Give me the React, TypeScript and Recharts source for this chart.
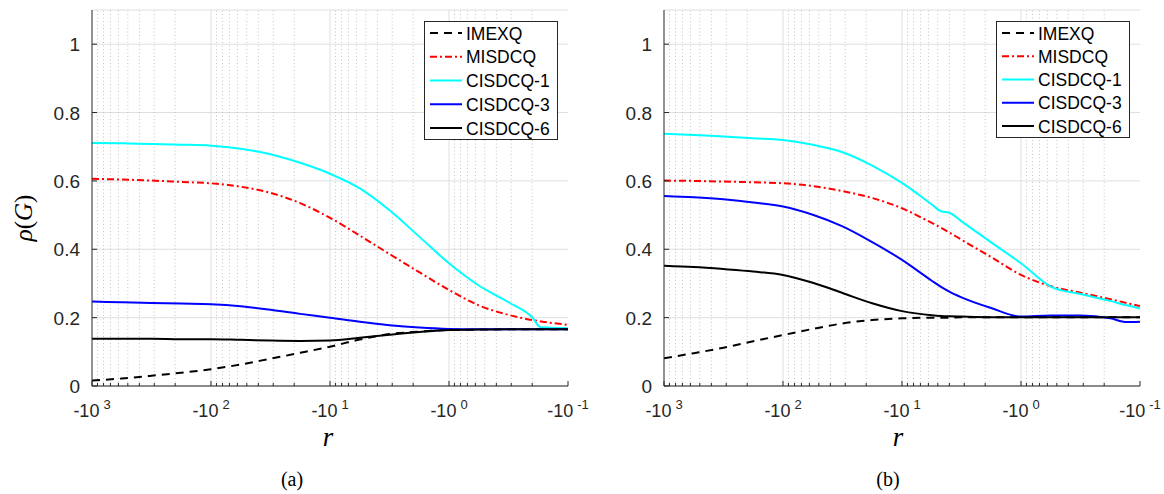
import React from "react";
import { LineChart, Line, XAxis, YAxis, CartesianGrid, ReferenceLine } from "recharts";

// |r| sample points (axis shows -|r|)
const rA = [1000, 562, 316, 178, 100, 56.2, 31.6, 17.8, 10, 5.62, 3.16, 1.78, 1, 0.562, 0.316, 0.2, 0.17, 0.1];
const imexqA = [0.016, 0.022, 0.03, 0.039, 0.049, 0.063, 0.08, 0.097, 0.115, 0.136, 0.152, 0.159, 0.164, 0.165, 0.166, 0.166, 0.166, 0.166];
const misdcqA = [0.606, 0.604, 0.601, 0.597, 0.593, 0.583, 0.565, 0.535, 0.492, 0.44, 0.386, 0.333, 0.281, 0.236, 0.208, 0.193, 0.189, 0.179];
const cis1A = [0.711, 0.71, 0.708, 0.706, 0.703, 0.694, 0.678, 0.653, 0.621, 0.578, 0.514, 0.437, 0.359, 0.294, 0.245, 0.201, 0.172, 0.169];
const cis3A = [0.247, 0.245, 0.243, 0.241, 0.239, 0.233, 0.223, 0.211, 0.2, 0.188, 0.178, 0.171, 0.167, 0.166, 0.166, 0.166, 0.166, 0.166];
const cis6A = [0.138, 0.138, 0.138, 0.137, 0.137, 0.135, 0.133, 0.132, 0.133, 0.141, 0.15, 0.158, 0.164, 0.165, 0.166, 0.166, 0.166, 0.166];

const rB = [1000, 562, 316, 178, 100, 56.2, 31.6, 17.8, 10, 5.62, 4.7, 4, 3.2, 1.78, 1, 0.562, 0.316, 0.178, 0.13, 0.1];
const imexqB = [0.081, 0.096, 0.112, 0.131, 0.149, 0.167, 0.183, 0.193, 0.198, 0.2, 0.2, 0.2, 0.201, 0.201, 0.201, 0.201, 0.201, 0.201, 0.201, 0.201];
const misdcqB = [0.601, 0.6, 0.598, 0.596, 0.593, 0.585, 0.57, 0.55, 0.52, 0.477, 0.463, 0.449, 0.429, 0.377, 0.325, 0.292, 0.273, 0.254, 0.243, 0.234];
const cis1B = [0.738, 0.734, 0.73, 0.725, 0.72, 0.706, 0.684, 0.645, 0.594, 0.531, 0.511, 0.507, 0.483, 0.42, 0.359, 0.291, 0.269, 0.249, 0.236, 0.227];
const cis3B = [0.556, 0.552, 0.546, 0.537, 0.525, 0.501, 0.467, 0.421, 0.369, 0.308, 0.29, 0.276, 0.26, 0.228, 0.203, 0.206, 0.206, 0.198, 0.187, 0.188];
const cis6B = [0.352, 0.348, 0.342, 0.335, 0.325, 0.302, 0.272, 0.242, 0.219, 0.207, 0.205, 0.204, 0.203, 0.201, 0.201, 0.201, 0.201, 0.201, 0.201, 0.201];

const MAJOR_X = [1000, 100, 10, 1, 0.1];
const DECADES = [0.1, 1, 10, 100];
const MINOR_STEPS = [2, 3, 4, 5, 6, 7, 8, 9];
const MINOR_X = DECADES.flatMap((d) => MINOR_STEPS.map((k) => d * k));
const Y_TICKS = [0, 0.2, 0.4, 0.6, 0.8, 1];

const SERIES = [
  { key: "imexq", name: "IMEXQ", color: "#000000", dash: "8 6" },
  { key: "misdcq", name: "MISDCQ", color: "#ff0000", dash: "7 3 2 3" },
  { key: "cis1", name: "CISDCQ-1", color: "#00ffff", dash: undefined },
  { key: "cis3", name: "CISDCQ-3", color: "#0000ff", dash: undefined },
  { key: "cis6", name: "CISDCQ-6", color: "#000000", dash: undefined },
];

const AXIS = "#262626";
const SANS = "'Liberation Sans', Arial, sans-serif";
const SERIF = "'Liberation Serif', 'Times New Roman', serif";

function build(r: number[], a: number[], b: number[], c: number[], d: number[], e: number[]) {
  return r.map((v, i) => ({ r: v, imexq: a[i], misdcq: b[i], cis1: c[i], cis3: d[i], cis6: e[i] }));
}

const dataA = build(rA, imexqA, misdcqA, cis1A, cis3A, cis6A);
const dataB = build(rB, imexqB, misdcqB, cis1B, cis3B, cis6B);

const isMajor = (v: number) => MAJOR_X.some((m) => Math.abs(m - v) < 1e-9);

function BottomTick({ x, y, payload }: any) {
  const v = payload.value;
  const major = isMajor(v);
  return (
    <g>
      <line x1={x} x2={x} y1={y} y2={y - (major ? 5 : 3)} stroke={AXIS} />
      {major && (
        <text x={x} y={y + 31} textAnchor="middle" fill={AXIS} fontSize={18} fontFamily={SANS}>
          -10
          <tspan dx={4} dy={-8} fontSize={13}>
            {Math.round(Math.log10(v))}
          </tspan>
        </text>
      )}
    </g>
  );
}

function TopTick({ x, y, payload }: any) {
  const major = isMajor(payload.value);
  return <line x1={x} x2={x} y1={y} y2={y + (major ? 5 : 3)} stroke={AXIS} />;
}

function LeftTick({ x, y, payload }: any) {
  return (
    <g>
      <line x1={x} x2={x + 5} y1={y} y2={y} stroke={AXIS} />
      <text x={x - 12} y={y + 7} textAnchor="end" fill={AXIS} fontSize={19} fontFamily={SANS}>
        {String(payload.value)}
      </text>
    </g>
  );
}

function RightTick({ x, y }: any) {
  return <line x1={x} x2={x - 5} y1={y} y2={y} stroke={AXIS} />;
}

function LegendBox({ left, top, height }: { left: number; top: number; height: number }) {
  const step = (height - 24) / 4;
  return (
    <svg style={{ position: "absolute", left, top }} width={134} height={height}>
      <rect x={0.5} y={0.5} width={133} height={height - 1} fill="#fff" stroke={AXIS} />
      {SERIES.map((s, i) => {
        const cy = 12 + i * step;
        return (
          <g key={s.key}>
            <line x1={6} x2={38} y1={cy} y2={cy} stroke={s.color} strokeWidth={2} strokeDasharray={s.dash} />
            <text x={42} y={cy + 6.5} fontSize={17.5} fontFamily={SANS} fill="#000">
              {s.name}
            </text>
          </g>
        );
      })}
    </svg>
  );
}

function Panel({ data, width, rightMargin, yLabel, rX }: any) {
  return (
    <LineChart width={width} height={494} data={data} margin={{ top: 10, right: rightMargin, bottom: 0, left: 0 }}>
      <CartesianGrid vertical={false} stroke="#dfdfdf" strokeWidth={1} />
      {MINOR_X.map((v) => (
        <ReferenceLine key={"m" + v} x={v} stroke="#c4c4c4" strokeDasharray="1 2.5" />
      ))}
      {[100, 10, 1].map((v) => (
        <ReferenceLine key={"M" + v} x={v} stroke="#dfdfdf" />
      ))}
      <XAxis
        dataKey="r"
        type="number"
        scale="log"
        domain={[0.1, 1000]}
        reversed
        allowDataOverflow
        ticks={[...MAJOR_X, ...MINOR_X]}
        interval={0}
        height={108}
        tickSize={0}
        tickMargin={0}
        tickLine={false}
        axisLine={{ stroke: AXIS }}
        tick={<BottomTick />}
        label={{
          content: () => (
            <text x={rX} y={446} textAnchor="middle" fontSize={27} fontStyle="italic" fontFamily={SERIF} fill="#000">
              r
            </text>
          ),
        }}
      />
      <XAxis
        xAxisId="top"
        orientation="top"
        type="number"
        scale="log"
        domain={[0.1, 1000]}
        reversed
        allowDataOverflow
        ticks={[...MAJOR_X, ...MINOR_X]}
        interval={0}
        height={0}
        tickSize={0}
        tickMargin={0}
        tickLine={false}
        axisLine={{ stroke: AXIS }}
        tick={<TopTick />}
      />
      <YAxis
        type="number"
        domain={[0, 1.1]}
        ticks={Y_TICKS}
        interval={0}
        width={92}
        tickSize={0}
        tickMargin={0}
        tickLine={false}
        axisLine={{ stroke: AXIS }}
        tick={<LeftTick />}
        label={
          yLabel
            ? {
                content: () => (
                  <text transform="translate(32,218) rotate(-90)" textAnchor="middle" fontSize={25} fontFamily={SERIF} fill="#000">
                    <tspan fontStyle="italic">ρ</tspan>(<tspan fontStyle="italic">G</tspan>)
                  </text>
                ),
              }
            : undefined
        }
      />
      <YAxis
        yAxisId="right"
        orientation="right"
        type="number"
        domain={[0, 1.1]}
        ticks={Y_TICKS}
        interval={0}
        width={0}
        tickSize={0}
        tickMargin={0}
        tickLine={false}
        axisLine={{ stroke: AXIS }}
        tick={<RightTick />}
      />
      {SERIES.map((s) => (
        <Line
          key={s.key}
          dataKey={s.key}
          name={s.name}
          type="monotone"
          stroke={s.color}
          strokeWidth={2}
          strokeDasharray={s.dash}
          dot={false}
          activeDot={false}
          isAnimationActive={false}
        />
      ))}
    </LineChart>
  );
}

const caption: React.CSSProperties = {
  position: "absolute",
  top: 468,
  fontFamily: SERIF,
  fontSize: 20,
  color: "#000",
  width: 40,
  textAlign: "center",
};

export default function App() {
  return (
    <div style={{ position: "absolute", left: 0, top: 0, width: 1164, height: 494, background: "#fff", overflow: "hidden" }}>
      <div style={{ position: "absolute", left: 0, top: 0 }}>
        <Panel data={dataA} width={590} rightMargin={22} yLabel rX={328} />
      </div>
      <div style={{ position: "absolute", left: 572, top: 0 }}>
        <Panel data={dataB} width={592} rightMargin={24} yLabel={false} rX={326} />
      </div>
      <LegendBox left={424} top={21} height={119} />
      <LegendBox left={996} top={21} height={117} />
      <div style={{ ...caption, left: 272 }}>(a)</div>
      <div style={{ ...caption, left: 868 }}>(b)</div>
    </div>
  );
}
